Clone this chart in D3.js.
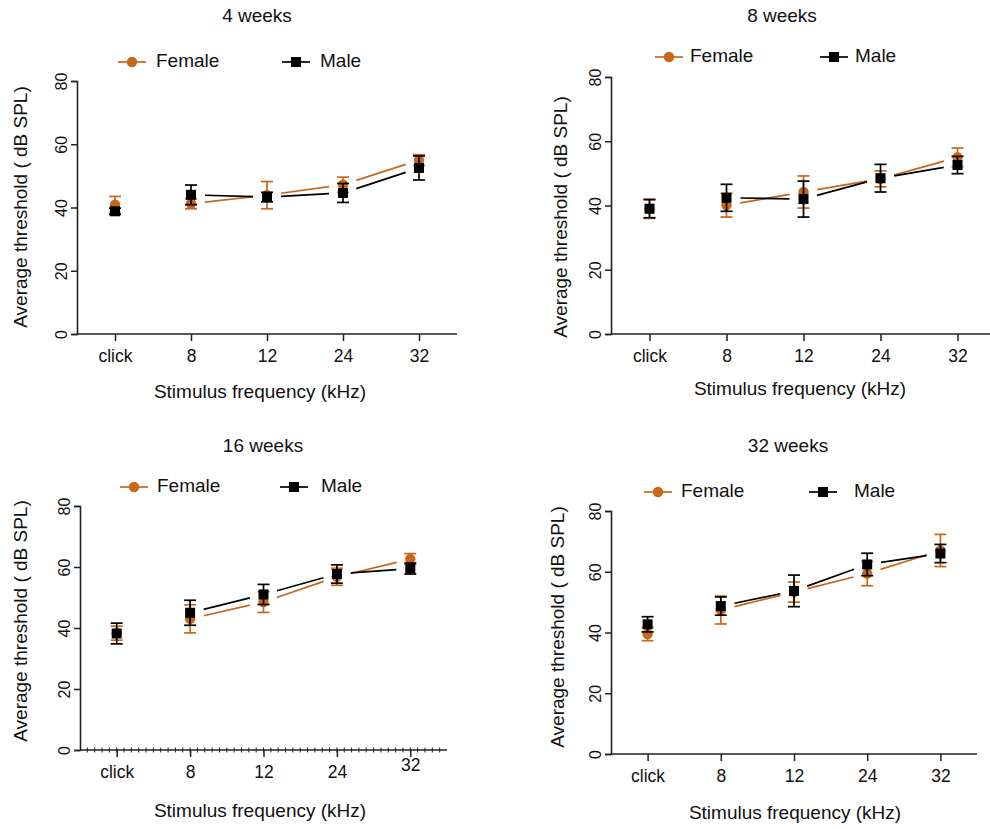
<!DOCTYPE html>
<html>
<head>
<meta charset="utf-8">
<script src="https://cdn.jsdelivr.net/npm/d3@7"></script>
<style>
  body { margin: 0; background: #fff; }
  svg text { font-family: "Liberation Sans", Arial, sans-serif; fill: #111; }
</style>
</head>
<body>
<div id="chart"></div>
<script>
// values
var categories = ["click", "8", "12", "24", "32"];
var titles = ["4 weeks", "8 weeks", "16 weeks", "32 weeks"];
var yTicks = [0, 20, 40, 60, 80];

var femaleMean4 = [40.9, 41.2, 43.9, 47.2, 55.0];
var femaleErr4  = [2.6, 1.6, 4.3, 2.4, 1.7];
var maleMean4   = [38.8, 44.0, 43.3, 44.6, 52.5];
var maleErr4    = [1.0, 3.1, 1.5, 3.0, 3.8];

var femaleMean8 = [39.0, 40.1, 44.2, 48.3, 55.0];
var femaleErr8  = [3.0, 3.7, 5.0, 2.5, 2.9];
var maleMean8   = [39.0, 42.4, 42.0, 48.5, 52.6];
var maleErr8    = [2.8, 4.2, 5.6, 4.3, 2.7];

var femaleMean16 = [38.3, 43.0, 48.5, 56.8, 62.6];
var femaleErr16  = [2.3, 4.6, 3.4, 2.8, 1.8];
var maleMean16   = [38.2, 45.0, 51.0, 57.7, 59.5];
var maleErr16    = [3.4, 4.1, 3.3, 3.0, 1.8];

var femaleMean32 = [39.5, 47.4, 53.3, 59.4, 67.0];
var femaleErr32  = [2.2, 4.6, 3.3, 4.0, 5.3];
var maleMean32   = [42.7, 48.7, 53.7, 62.4, 66.0];
var maleErr32    = [2.5, 3.0, 5.2, 3.7, 3.0];

var femaleColor = "#c8661a";
var maleColor = "#000";
var axisColor = "#222";

// panel layout (pixel positions only)
var panels = [
  {title: titles[0], fm: femaleMean4, fe: femaleErr4, mm: maleMean4, me: maleErr4,
   x0: 77, x1: 457, yTop: 81, yBot: 334, titleX: 257, titleY: 17,
   legY: 62, legF: 132, legFText: 156, legM: 296, legMText: 320,
   xlabX: 260, xlabY: 393, ylabX: 22, ylabY: 207},
  {title: titles[1], fm: femaleMean8, fe: femaleErr8, mm: maleMean8, me: maleErr8,
   x0: 611, x1: 996, yTop: 77, yBot: 334, titleX: 782, titleY: 17,
   legY: 57, legF: 669, legFText: 690, legM: 834, legMText: 855,
   xlabX: 800, xlabY: 390, ylabX: 562, ylabY: 217},
  {title: titles[2], fm: femaleMean16, fe: femaleErr16, mm: maleMean16, me: maleErr16,
   x0: 80, x1: 447, yTop: 506, yBot: 750, titleX: 263, titleY: 447,
   legY: 487, legF: 134, legFText: 157, legM: 294, legMText: 321,
   xlabX: 260, xlabY: 812, ylabX: 22, ylabY: 621},
  {title: titles[3], fm: femaleMean32, fe: femaleErr32, mm: maleMean32, me: maleErr32,
   x0: 611, x1: 977, yTop: 511, yBot: 754, titleX: 788, titleY: 447,
   legY: 492, legF: 658, legFText: 681, legM: 823, legMText: 854,
   xlabX: 795, xlabY: 814, ylabX: 559, ylabY: 627}
];

var svg = d3.select("#chart").append("svg")
    .attr("width", 990)
    .attr("height", 829);

panels.forEach(function(p, pi) {
  var g = svg.append("g");

  var x = d3.scalePoint()
      .domain(categories)
      .range([p.x0, p.x1])
      .padding(0.5);
  var y = d3.scaleLinear()
      .domain([0, 80])
      .range([p.yBot, p.yTop]);

  // title
  g.append("text")
      .attr("x", p.titleX).attr("y", p.titleY)
      .attr("text-anchor", "middle")
      .attr("dominant-baseline", "middle")
      .style("font-size", "19px")
      .text(p.title);

  // y axis
  var yAxis = g.append("g")
      .attr("transform", "translate(" + p.x0 + ",0)")
      .call(d3.axisLeft(y).tickValues(yTicks).tickSize(6).tickPadding(4));
  yAxis.select(".domain").attr("stroke", axisColor).attr("stroke-width", 1.6);
  yAxis.selectAll(".tick line").attr("stroke", axisColor).attr("stroke-width", 1.5);
  yAxis.selectAll(".tick text")
      .attr("x", null).attr("dy", null)
      .attr("text-anchor", "middle")
      .attr("dominant-baseline", "middle")
      .attr("transform", "translate(-14,0) rotate(-90)")
      .style("font-size", "16px")
      .style("font-family", "Liberation Sans, Arial, sans-serif")
      .attr("fill", "#111");

  // x axis
  var xAxis = g.append("g")
      .attr("transform", "translate(0," + p.yBot + ")")
      .call(d3.axisBottom(x).tickSize(7).tickSizeOuter(0).tickPadding(6));
  xAxis.select(".domain").attr("stroke", axisColor).attr("stroke-width", 1.6)
      .attr("d", "M" + p.x0 + ",0H" + p.x1);
  xAxis.selectAll(".tick line").attr("stroke", axisColor).attr("stroke-width", 1.5);
  xAxis.selectAll(".tick text")
      .attr("y", 23).attr("dy", null)
      .attr("dominant-baseline", "middle")
      .style("font-size", "17.5px")
      .style("font-family", "Liberation Sans, Arial, sans-serif")
      .attr("fill", "#111");
  if (pi === 2) {
    // the last label sits a bit higher in the source figure
    xAxis.selectAll(".tick text").filter(function(d) { return d === "32"; }).attr("y", 16);
    // dotted minor ticks along the x axis
    var step = (p.x1 - p.x0) / 50;
    var minor = d3.range(1, 50).map(function(i) { return p.x0 + i * step; });
    g.selectAll(".minor").data(minor).enter().append("line")
        .attr("class", "minor")
        .attr("x1", function(d) { return d; }).attr("x2", function(d) { return d; })
        .attr("y1", p.yBot - 2.5).attr("y2", p.yBot + 2.5)
        .attr("stroke", axisColor).attr("stroke-width", 1);
  }

  // axis titles
  g.append("text")
      .attr("x", p.xlabX).attr("y", p.xlabY)
      .attr("text-anchor", "middle")
      .attr("dominant-baseline", "middle")
      .style("font-size", "19px")
      .text("Stimulus frequency (kHz)");
  g.append("text")
      .attr("transform", "translate(" + p.ylabX + "," + p.ylabY + ") rotate(-90)")
      .attr("text-anchor", "middle")
      .attr("dominant-baseline", "middle")
      .style("font-size", "19px")
      .text("Average threshold ( dB SPL)");

  // series
  var series = [
    {name: "Female", mean: p.fm, err: p.fe, color: femaleColor, shape: "circle"},
    {name: "Male", mean: p.mm, err: p.me, color: maleColor, shape: "square"}
  ];

  series.forEach(function(s) {
    var pts = categories.map(function(c, i) {
      return {cx: x(c), cy: y(s.mean[i]), lo: y(s.mean[i] - s.err[i]), hi: y(s.mean[i] + s.err[i])};
    });

    // connecting segments (none between click and 8), with gaps at markers
    var segs = [];
    for (var i = 1; i < pts.length - 1; i++) {
      var a = pts[i], b = pts[i + 1];
      var dx = b.cx - a.cx, dy = b.cy - a.cy, len = Math.sqrt(dx * dx + dy * dy);
      var gap = 14;
      segs.push({
        x1: a.cx + dx * gap / len, y1: a.cy + dy * gap / len,
        x2: b.cx - dx * gap / len, y2: b.cy - dy * gap / len
      });
    }
    g.selectAll(null).data(segs).enter().append("line")
        .attr("x1", function(d) { return d.x1; }).attr("y1", function(d) { return d.y1; })
        .attr("x2", function(d) { return d.x2; }).attr("y2", function(d) { return d.y2; })
        .attr("stroke", s.color).attr("stroke-width", 1.7);

    // error bars
    var eb = g.selectAll(null).data(pts).enter().append("g")
        .attr("stroke", s.color).attr("stroke-width", 1.7);
    eb.append("line")
        .attr("x1", function(d) { return d.cx; }).attr("x2", function(d) { return d.cx; })
        .attr("y1", function(d) { return d.lo; }).attr("y2", function(d) { return d.hi; });
    eb.append("line")
        .attr("x1", function(d) { return d.cx - 6; }).attr("x2", function(d) { return d.cx + 6; })
        .attr("y1", function(d) { return d.lo; }).attr("y2", function(d) { return d.lo; });
    eb.append("line")
        .attr("x1", function(d) { return d.cx - 6; }).attr("x2", function(d) { return d.cx + 6; })
        .attr("y1", function(d) { return d.hi; }).attr("y2", function(d) { return d.hi; });

    // markers
    if (s.shape === "circle") {
      g.selectAll(null).data(pts).enter().append("circle")
          .attr("cx", function(d) { return d.cx; })
          .attr("cy", function(d) { return d.cy; })
          .attr("r", 5.2)
          .attr("fill", s.color);
    } else {
      g.selectAll(null).data(pts).enter().append("rect")
          .attr("x", function(d) { return d.cx - 5; })
          .attr("y", function(d) { return d.cy - 5; })
          .attr("width", 10).attr("height", 10)
          .attr("fill", s.color);
    }
  });

  // legend
  var leg = [
    {name: "Female", cx: p.legF, tx: p.legFText, color: femaleColor, shape: "circle"},
    {name: "Male", cx: p.legM, tx: p.legMText, color: maleColor, shape: "square"}
  ];
  leg.forEach(function(l) {
    g.append("line")
        .attr("x1", l.cx - 14).attr("x2", l.cx + 14)
        .attr("y1", p.legY).attr("y2", p.legY)
        .attr("stroke", l.color).attr("stroke-width", 1.7);
    if (l.shape === "circle") {
      g.append("circle").attr("cx", l.cx).attr("cy", p.legY).attr("r", 5.2).attr("fill", l.color);
    } else {
      g.append("rect").attr("x", l.cx - 5).attr("y", p.legY - 5)
          .attr("width", 10).attr("height", 10).attr("fill", l.color);
    }
    g.append("text")
        .attr("x", l.tx).attr("y", p.legY)
        .attr("dominant-baseline", "middle")
        .style("font-size", "19px")
        .text(l.name);
  });
});
</script>
</body>
</html>
